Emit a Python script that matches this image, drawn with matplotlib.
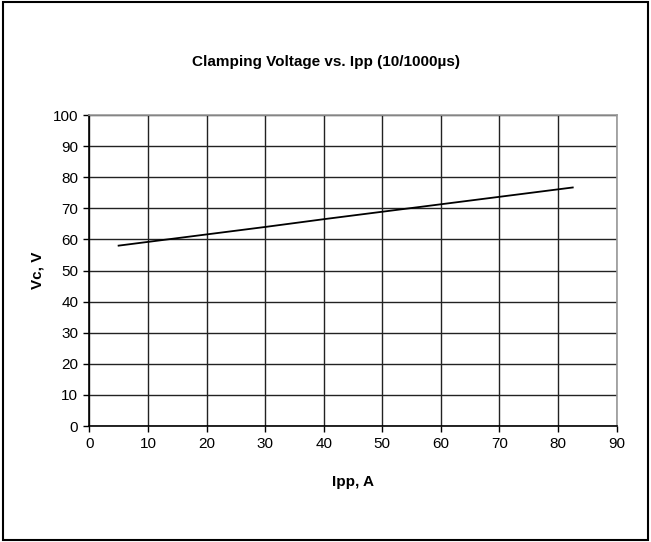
import matplotlib
matplotlib.use("Agg")
import matplotlib.pyplot as plt
from matplotlib.patches import Rectangle

plt.rcParams['font.family'] = ['Liberation Sans', 'DejaVu Sans']

ipp = [5, 10, 20, 30, 40, 50, 60, 70, 82.5]
vc = [58.0, 59.2, 61.6, 64.0, 66.5, 68.9, 71.3, 73.7, 76.7]
x_ticks = [0, 10, 20, 30, 40, 50, 60, 70, 80, 90]
y_ticks = [0, 10, 20, 30, 40, 50, 60, 70, 80, 90, 100]

fig = plt.figure(figsize=(6.51, 5.42), dpi=100)
ax = fig.add_axes([0.1372, 0.214, 0.8101, 0.5738])

ax.plot(ipp, vc, color='black', linewidth=1.3, zorder=3)
ax.set_xlim(0, 90)
ax.set_ylim(0, 100)
ax.set_xticks(x_ticks)
ax.set_yticks(y_ticks)
ax.grid(True, color='#222222', linewidth=1.0)
ax.tick_params(axis='both', direction='out', length=4, width=1, labelsize=11, pad=4, color='black')
ax.spines['left'].set_color('black')
ax.spines['bottom'].set_color('black')
ax.spines['top'].set_color('#999999')
ax.spines['right'].set_color('#999999')
for s in ax.spines.values():
    s.set_linewidth(1.2)

fig.text(0.5, 1 - 62 / 542, 'Clamping Voltage vs. Ipp (10/1000µs)', fontsize=11,
         fontweight='bold', ha='center', va='center')
fig.text(353 / 651, 1 - 482 / 542, 'Ipp, A', fontsize=11, fontweight='bold',
         ha='center', va='center')
fig.text(38 / 651, 1 - 270 / 542, 'Vc, V', fontsize=11, fontweight='bold',
         ha='center', va='center', rotation=90)

fig.patches.append(Rectangle((3/651, 2/542), 645/651, 538/542, transform=fig.transFigure,
                             fill=False, edgecolor='black', linewidth=1.5))

fig.savefig('out.png', dpi=100)
